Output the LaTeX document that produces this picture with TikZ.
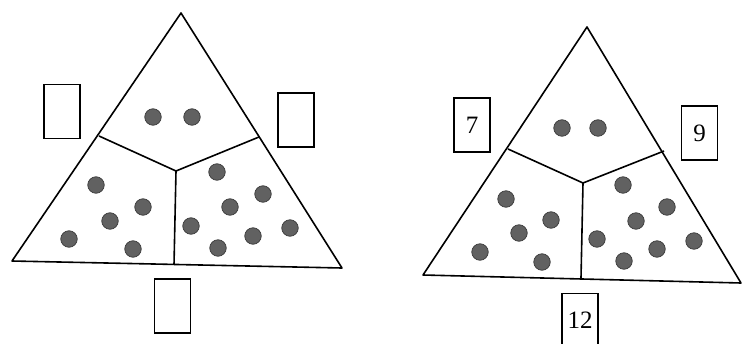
\documentclass[tikz,border=0pt]{standalone}
\usepackage{fontspec}
\setmainfont{Liberation Serif}
\begin{document}
\begin{tikzpicture}[x=1pt,y=-1pt,
  edge/.style={line width=1.6pt,line join=round},
  numbox/.style={draw,line width=1.5pt,minimum width=36pt,minimum height=54pt,inner sep=0pt,
     font=\fontsize{25}{27}\selectfont},
  dot/.style={circle,fill=black!62,draw=black!78,line width=0.7pt,minimum size=16.5pt,inner sep=0pt}]
\useasboundingbox (0,0) rectangle (742,343);
% ---- left triangle
\coordinate (LA) at (181,13);
\coordinate (LB) at (12,261);
\coordinate (LC) at (342,268);
\coordinate (LL) at (99,136);
\coordinate (LR) at (259,137);
\coordinate (LM) at (176,171);
\coordinate (LD) at (174,265);
\draw[edge] (LA) -- (LB) -- (LC) -- cycle;
\draw[edge] (LL) -- (LM) -- (LR);
\draw[edge] (LM) -- (LD);
\node[numbox] (lb1) at (62,111.5) {};
\node[numbox] (lb2) at (296,120) {};
\node[numbox] (lb3) at (172.5,306) {};
\foreach \p [count=\i] in {(153,117),(192,117),
  (96,185),(143,207),(110,221),(69,239),(133,249),
  (217,172),(263,194),(230,207),(191,226),(290,228),(253,236),(218,248)}
  \node[dot] (ld\i) at \p {};
% ---- right triangle
\coordinate (RA) at (587,27);
\coordinate (RB) at (423,275);
\coordinate (RC) at (741,283);
\coordinate (RL) at (508,149);
\coordinate (RR) at (664,151);
\coordinate (RM) at (583,183);
\coordinate (RD) at (581,278);
\draw[edge] (RA) -- (RB) -- (RC) -- cycle;
\draw[edge] (RL) -- (RM) -- (RR);
\draw[edge] (RM) -- (RD);
\node[numbox] (rb1) at (472,125) {7};
\node[numbox] (rb2) at (699.5,133) {9};
\node[numbox] (rb3) at (580,320.5) {12};
\foreach \p [count=\i] in {(562,128),(598,128),
  (506,199),(551,220),(519,233),(480,252),(542,262),
  (623,185),(667,207),(636,221),(597,239),(694,241),(657,249),(624,261)}
  \node[dot] (rd\i) at \p {};
\end{tikzpicture}
\end{document}
